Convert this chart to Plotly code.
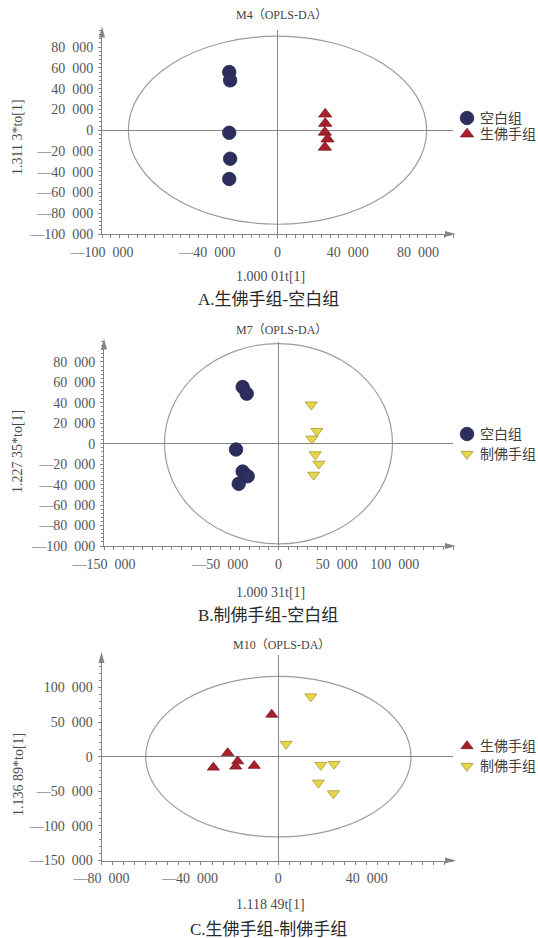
import plotly.graph_objects as go

W, H = 538, 938

# ---------------- data: OPLS-DA score plots ----------------
# Panel A  (M4): 空白组 vs 生佛手组
a_blank_t = [-27500, -27000, -27500, -27000, -27500]
a_blank_to = [56000, 48000, -2500, -27500, -47000]
a_raw_t = [27200, 27200, 27000, 28500, 27000]
a_raw_to = [15500, 6500, -2000, -8500, -16500]

# Panel B  (M7): 空白组 vs 制佛手组
b_blank_t = [-30800, -27300, -36500, -30800, -26500, -34200]
b_blank_to = [55500, 49000, -5600, -27200, -31800, -39200]
b_proc_t = [28200, 33000, 28700, 31600, 34700, 30200]
b_proc_to = [38200, 12400, 4900, -10500, -19600, -30400]

# Panel C  (M10): 生佛手组 vs 制佛手组
c_raw_t = [-3000, -22900, -18400, -19300, -29400, -10900]
c_raw_to = [61000, 5500, -6500, -14000, -15500, -13000]
c_proc_t = [14700, 3500, 19200, 25200, 18100, 24900]
c_proc_to = [87000, 18400, -12000, -10600, -37700, -53000]

# Hotelling T2 ellipse half-axes (t, to) per model
a_ellipse = (85000, 90600)
b_ellipse = (98000, 98000)
c_ellipse = (60000, 116000)

# axis ranges and tick labels
a_xrange, a_yrange = (-100000, 100000), (-100000, 97000)
b_xrange, b_yrange = (-150000, 150000), (-100000, 100000)
c_xrange, c_yrange = (-80000, 79000), (-150000, 147000)

a_xticks = [-100000, -40000, 0, 40000, 80000]
a_yticks = [80000, 60000, 40000, 20000, 0, -20000, -40000, -60000, -80000, -100000]
b_xticks = [-150000, -50000, 0, 50000, 100000]
b_yticks = [80000, 60000, 40000, 20000, 0, -20000, -40000, -60000, -80000, -100000]
c_xticks = [-80000, -40000, 0, 40000]
c_yticks = [100000, 50000, 0, -50000, -100000, -150000]

model_titles = ["M4（OPLS-DA）", "M7（OPLS-DA）", "M10（OPLS-DA）"]
x_titles = ["1.000 01t[1]", "1.000 31t[1]", "1.118 49t[1]"]
y_titles = ["1.311 3*to[1]", "1.227 35*to[1]", "1.136 89*to[1]"]
captions = ["A.生佛手组-空白组", "B.制佛手组-空白组", "C.生佛手组-制佛手组"]

NAME_BLANK, NAME_RAW, NAME_PROC = "空白组", "生佛手组", "制佛手组"

# ---------------- styling ----------------
SERIF = "Liberation Serif, Noto Sans CJK SC, serif"
AXIS_C = "#858585"
TICK_C = "#555555"
NAVY = "#2c2e5e"
RED = "#a6212b"
RED_EDGE = "#7e1820"
YELLOW = "#e8d64a"
YELLOW_EDGE = "#a8952e"


def fmt(v):
    s = f"{abs(v):,}".replace(",", "\u2002")
    return ("—" + s) if v < 0 else s


def px_x(p):
    return p / W


def px_y(p):
    return 1 - p / H


# pixel boxes of the three plotting areas: (left, right, top, bottom)
boxes = [(102, 453, 29.5, 234), (104, 453, 341.5, 546), (101.5, 453, 655, 860.5)]

fig = go.Figure()

marker_styles = {
    NAME_BLANK: dict(symbol="circle", color=NAVY, line=dict(color="#23254d", width=0.8)),
    NAME_RAW: dict(symbol="triangle-up", color=RED, line=dict(color=RED_EDGE, width=0.8)),
    NAME_PROC: dict(symbol="triangle-down", color=YELLOW, line=dict(color=YELLOW_EDGE, width=0.8)),
}

panels = [
    dict(series=[(NAME_BLANK, a_blank_t, a_blank_to, 13.5), (NAME_RAW, a_raw_t, a_raw_to, 11.5)],
         xr=a_xrange, yr=a_yrange, xt=a_xticks, yt=a_yticks, ell=a_ellipse,
         xminor=5000, yminor=4000),
    dict(series=[(NAME_BLANK, b_blank_t, b_blank_to, 13.5), (NAME_PROC, b_proc_t, b_proc_to, 10.5)],
         xr=b_xrange, yr=b_yrange, xt=b_xticks, yt=b_yticks, ell=b_ellipse,
         xminor=50000 / 6, yminor=4000),
    dict(series=[(NAME_RAW, c_raw_t, c_raw_to, 10.5), (NAME_PROC, c_proc_t, c_proc_to, 10.5)],
         xr=c_xrange, yr=c_yrange, xt=c_xticks, yt=c_yticks, ell=c_ellipse,
         xminor=5000, yminor=10000),
]

# legend rows (pixel y of each entry) and label geometry
legend_rows = [(118, 134), (434, 454), (746, 766)]
LEG_MARK_X, LEG_TEXT_X = 467, 478

title_y = [15.5, 330, 645]
xtitle_y = [276, 592, 904]
caption_y = [299, 615, 929]
ytitle_y = [137, 452, 775]

for i, p in enumerate(panels):
    k = "" if i == 0 else str(i + 1)
    xa, ya = "x" + k, "y" + k
    left, right, top, bottom = boxes[i]

    common = dict(
        showline=True, linecolor=AXIS_C, linewidth=1, automargin=False,
        showgrid=False, zeroline=True, zerolinecolor=AXIS_C, zerolinewidth=1,
        ticks="outside", ticklen=3, tickcolor=AXIS_C, tickwidth=1,
        tickfont=dict(family=SERIF, size=14, color=TICK_C),
        fixedrange=True,
    )
    fig.update_layout(**{
        "xaxis" + k: dict(
            common, domain=[px_x(left), px_x(right)], range=list(p["xr"]),
            anchor=ya, tickmode="array", tickvals=p["xt"],
            ticktext=[fmt(v) for v in p["xt"]], ticklabelstandoff=2,
            minor=dict(dtick=p["xminor"], tick0=0, ticks="outside", ticklen=3,
                       tickcolor=AXIS_C, showgrid=False),
        ),
        "yaxis" + k: dict(
            common, domain=[px_y(bottom), px_y(top)], range=list(p["yr"]),
            anchor=xa, tickmode="array", tickvals=p["yt"],
            ticktext=[fmt(v) for v in p["yt"]], ticklabelstandoff=2,
            minor=dict(dtick=p["yminor"], tick0=0, ticks="outside", ticklen=2,
                       tickcolor=AXIS_C, showgrid=False),
        ),
    })

    # confidence ellipse
    ea, eb = p["ell"]
    fig.add_shape(type="circle", xref=xa, yref=ya, x0=-ea, x1=ea, y0=-eb, y1=eb,
                  line=dict(color="#9c9c9c", width=1.2), layer="below")

    # score points
    for name, xs, ys, size in p["series"]:
        st = marker_styles[name]
        fig.add_trace(go.Scatter(
            x=xs, y=ys, mode="markers", name=name, showlegend=False,
            xaxis=xa, yaxis=ya, cliponaxis=False,
            marker=dict(symbol=st["symbol"], size=size, color=st["color"], line=st["line"]),
        ))

    # arrowheads at the axis ends
    fig.add_shape(type="path", xref="paper", yref="paper",
                  path=f"M {px_x(left - 3)} {px_y(top + 8)} L {px_x(left + 3)} {px_y(top + 8)} "
                       f"L {px_x(left)} {px_y(top - 3)} Z",
                  fillcolor=AXIS_C, line=dict(width=0))
    fig.add_shape(type="path", xref="paper", yref="paper",
                  path=f"M {px_x(right - 8)} {px_y(bottom - 3)} L {px_x(right - 8)} {px_y(bottom + 3)} "
                       f"L {px_x(right + 3)} {px_y(bottom)} Z",
                  fillcolor=AXIS_C, line=dict(width=0))

    # texts
    centred = dict(xref="paper", yref="paper", showarrow=False,
                   xanchor="center", yanchor="middle")
    fig.add_annotation(text=model_titles[i], x=px_x(281), y=px_y(title_y[i]),
                       font=dict(family=SERIF, size=12, color="#444444"), **centred)
    fig.add_annotation(text=x_titles[i], x=px_x(270), y=px_y(xtitle_y[i]),
                       font=dict(family=SERIF, size=14, color="#4a4a4a"), **centred)
    fig.add_annotation(text=captions[i], x=px_x(268), y=px_y(caption_y[i]),
                       font=dict(family=SERIF, size=17, color="#2a2a2a"), **centred)
    fig.add_annotation(text=y_titles[i], x=px_x(18), y=px_y(ytitle_y[i]), textangle=-90,
                       font=dict(family=SERIF, size=14, color="#4a4a4a"), **centred)

    # legend entries
    for (name, _, _, size), ly in zip(p["series"], legend_rows[i]):
        st = marker_styles[name]
        fig.add_trace(go.Scatter(
            x=[LEG_MARK_X], y=[ly], mode="markers", showlegend=False,
            xaxis="x4", yaxis="y4", hoverinfo="skip",
            marker=dict(symbol=st["symbol"], size=size, color=st["color"], line=st["line"]),
        ))
        fig.add_annotation(text=name, xref="x4", yref="y4", x=LEG_TEXT_X, y=ly,
                           xanchor="left", yanchor="middle", showarrow=False,
                           font=dict(family=SERIF, size=14, color="#404040"))

# full-page pixel overlay used for the legend glyphs
fig.update_layout(
    xaxis4=dict(domain=[0, 1], range=[0, W], visible=False, fixedrange=True,
                anchor="y4", automargin=False),
    yaxis4=dict(domain=[0, 1], range=[H, 0], visible=False, fixedrange=True,
                anchor="x4", automargin=False),
)

fig.update_layout(
    width=W, height=H, margin=dict(l=0, r=0, t=0, b=0, autoexpand=False),
    paper_bgcolor="white", plot_bgcolor="rgba(0,0,0,0)",
    showlegend=False,
)

fig.write_html("out.html", config={"displayModeBar": False})
